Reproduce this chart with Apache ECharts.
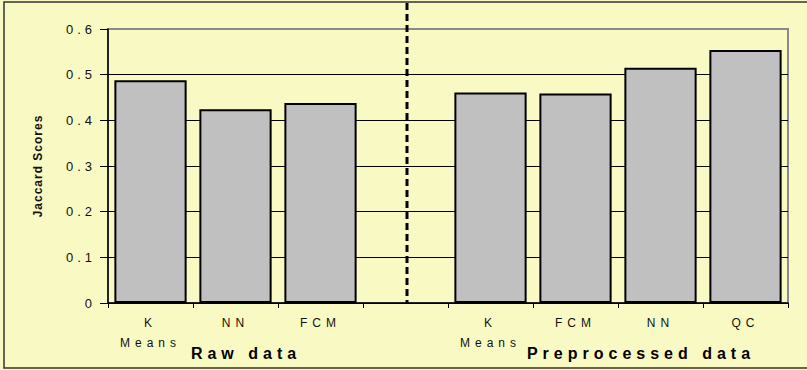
<!DOCTYPE html>
<html>
<head>
<meta charset="utf-8">
<script src="https://cdn.jsdelivr.net/npm/echarts@6/dist/echarts.min.js"></script>
<style>
  html, body { margin: 0; padding: 0; background: #F9FAC3; }
  #chart { width: 807px; height: 370px; }
</style>
</head>
<body>
<div id="chart"></div>
<script>
// Method names along the x axis; the empty slot separates the two groups
var categories = ['K\nMeans', 'NN', 'FCM', '', 'K\nMeans', 'FCM', 'NN', 'QC'];
// Jaccard scores per method ('-' = no bar in the separator slot)
var scores = [0.488, 0.424, 0.438, '-', 0.461, 0.459, 0.515, 0.554];
var yTicks = { min: 0, max: 0.6, step: 0.1 };
var groupTitles = ['Raw data', 'Preprocessed data'];
var separatorIndex = 3;

var FONT = '"Liberation Sans", Arial, sans-serif';
var chart = echarts.init(document.getElementById('chart'), null, { renderer: 'svg' });

var option = {
  animation: false,
  backgroundColor: '#F9FAC3',
  textStyle: { fontFamily: FONT },
  grid: {
    left: 108, right: 19, top: 29, bottom: 67,
    show: true, borderColor: '#8a8a8a', borderWidth: 2, backgroundColor: 'transparent'
  },
  xAxis: {
    type: 'category',
    data: categories,
    axisLine: { lineStyle: { color: '#000', width: 1.5 } },
    axisTick: { show: true, length: 5, interval: 0, lineStyle: { color: '#000', width: 1 } },
    axisLabel: { interval: 0, color: '#111', fontSize: 12, fontFamily: FONT, lineHeight: 20, margin: 10 },
    splitLine: { show: false }
  },
  yAxis: {
    type: 'value',
    min: yTicks.min, max: yTicks.max, interval: yTicks.step,
    name: 'Jaccard Scores',
    nameLocation: 'middle',
    nameGap: 64,
    nameTextStyle: { fontSize: 12, fontWeight: 'bold', color: '#111', fontFamily: FONT },
    axisLine: { show: true, lineStyle: { color: '#000', width: 1.5 } },
    axisTick: { show: true, length: 8, lineStyle: { color: '#000', width: 1 } },
    axisLabel: { color: '#111', fontSize: 13, fontFamily: FONT, margin: 12 },
    splitLine: {
      show: true,
      lineStyle: { color: ['#000', '#000', '#000', '#000', '#000', '#000', '#8a8a8a'], width: 1 }
    }
  },
  series: [{
    type: 'bar',
    data: scores,
    barCategoryGap: '15%',
    itemStyle: { color: '#C0C0C0', borderColor: '#000', borderWidth: 2 }
  }]
};
chart.setOption(option);

// Dashed separator, frame and group titles
var sepX = chart.convertToPixel({ xAxisIndex: 0 }, separatorIndex);
var plotBottom = chart.convertToPixel({ yAxisIndex: 0 }, yTicks.min);
chart.setOption({
  graphic: [
    {
      type: 'rect', silent: true, z: 100,
      shape: { x: 4, y: 2, width: 840, height: 366 },
      style: { fill: 'none', stroke: '#333', lineWidth: 1.5 }
    },
    {
      type: 'line', silent: true, z: 100,
      shape: { x1: sepX + 1.5, y1: 3, x2: sepX + 1.5, y2: plotBottom },
      style: { stroke: '#000', lineWidth: 3, lineDash: [7, 4] }
    },
    {
      type: 'text', silent: true, z: 100,
      style: { text: groupTitles[0], x: 246, y: 353, align: 'center', verticalAlign: 'middle',
               font: 'bold 16px ' + FONT, fill: '#000' }
    },
    {
      type: 'text', silent: true, z: 100,
      style: { text: groupTitles[1], x: 641, y: 353, align: 'center', verticalAlign: 'middle',
               font: 'bold 16px ' + FONT, fill: '#000' }
    }
  ]
});

// Spread the letters of the axis and group labels
function spreadLetters() {
  var texts = document.querySelectorAll('#chart svg text');
  texts.forEach(function (t) {
    var s = t.textContent.trim();
    var sp = null;
    if (/^0(\.\d)?$/.test(s)) sp = 4;
    else if (['K', 'Means', 'NN', 'FCM', 'QC'].indexOf(s) >= 0) sp = 5;
    else if (groupTitles.indexOf(s) >= 0) sp = 5;
    else if (s === 'Jaccard Scores') sp = 1;
    if (sp !== null) {
      t.setAttribute('letter-spacing', sp + 'px');
      t.style.letterSpacing = sp + 'px';
    }
  });
}
chart.on('finished', spreadLetters);
spreadLetters();
setTimeout(spreadLetters, 50);
</script>
</body>
</html>
